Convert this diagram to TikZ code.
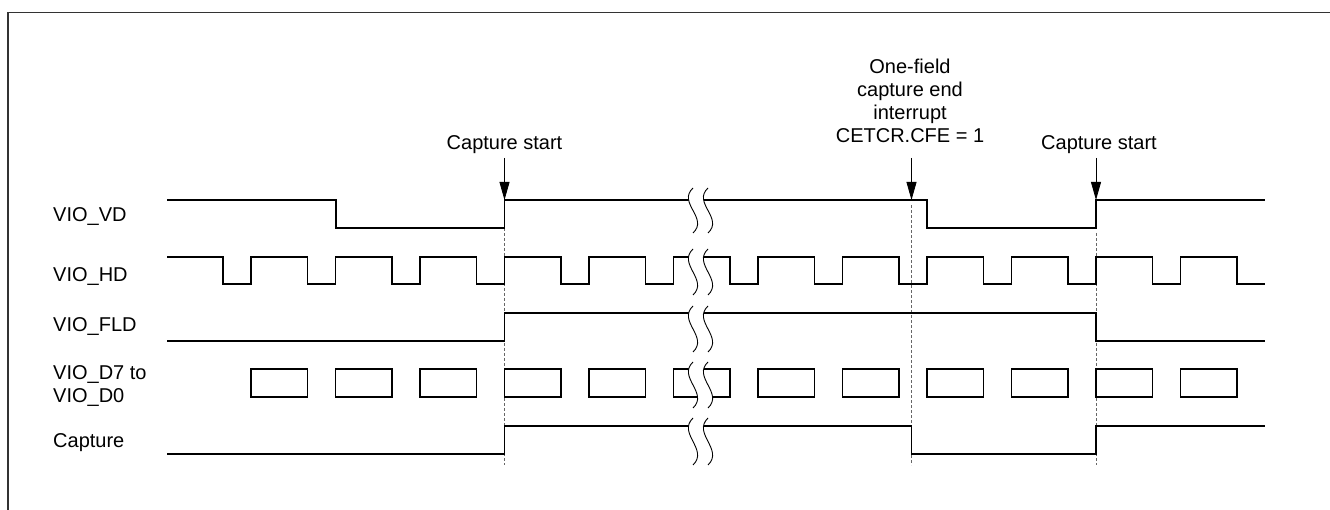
\documentclass[tikz,border=0pt]{standalone}
\usepackage{fontspec}
\setmainfont{Liberation Sans}
\usetikzlibrary{arrows.meta}
\begin{document}
\begin{tikzpicture}[x=1pt,y=-1pt,
  wave/.style={line width=1.3pt,black,line join=miter},
  guide/.style={line width=0.8pt,gray!80!black,dash pattern=on 3pt off 2pt},
  lbl/.style={anchor=west,inner sep=0pt,font=\fontsize{20}{23}\selectfont},
  note/.style={align=center,inner sep=2pt,font=\fontsize{20}{23}\selectfont},
  marker/.style={line width=0.8pt,-{Triangle[length=18pt,width=10pt]}},
  frameline/.style={line width=1.5pt,black!80}]
\useasboundingbox (0,0) rectangle (1330,510);
% frame
\draw[frameline] (8,510) -- (8,12.5) -- (1330,12.5);
% labels
\node[lbl] (lvd) at (53,217) {VIO\_VD};
\node[lbl] (lhd) at (53,277) {VIO\_HD};
\node[lbl] (lfld) at (53,327) {VIO\_FLD};
\node[lbl,align=left] (ld) at (53,386) {VIO\_D7 to\\VIO\_D0};
\node[lbl] (lcap) at (53,443) {Capture};
% guide lines
\draw[guide] (504.5,228) -- (504.5,465);
\draw[guide] (911.5,205) -- (911.5,465);
\draw[guide] (1096,233) -- (1096,465);
% VIO_VD
\draw[wave] (167,200) -- (336,200) -- (336,228) -- (504.5,228) -- (504.5,200) -- (927,200) -- (927,228) -- (1096,228) -- (1096,200) -- (1265,200);
% VIO_HD
\draw[wave] (167,257) \foreach \k in {0,...,11}{ -- ({223+84.5*\k},257) -- ++(0,27) -- ++(28,0) -- ++(0,-27) } -- (1237,257) -- (1237,284) -- (1265,284);
% VIO_FLD
\draw[wave] (167,341) -- (504.5,341) -- (504.5,313) -- (1096,313) -- (1096,341) -- (1265,341);
% data boxes
\foreach \k in {0,...,11}{
  \draw[wave] ({251+84.5*\k},369) rectangle ++(56.5,28);
}
% Capture
\draw[wave] (167,454) -- (504.5,454) -- (504.5,426) -- (911.5,426) -- (911.5,454) -- (1096,454) -- (1096,426) -- (1265,426);
% break marks
\foreach \t/\b in {188/233,249/295,306/352,362/408,418/465}{
  \fill[white] (693,\t) .. controls (677,{\t+0.33*(\b-\t)}) and (709,{\t+0.67*(\b-\t)}) .. (693,\b)
     -- (708,\b) .. controls (724,{\t+0.67*(\b-\t)}) and (692,{\t+0.33*(\b-\t)}) .. (708,\t) -- cycle;
  \draw[line width=0.9pt] (693,\t) .. controls (677,{\t+0.33*(\b-\t)}) and (709,{\t+0.67*(\b-\t)}) .. (693,\b);
  \draw[line width=0.9pt] (708,\t) .. controls (692,{\t+0.33*(\b-\t)}) and (724,{\t+0.67*(\b-\t)}) .. (708,\b);
}
% annotations
\node[note] (cs1) at (504.5,145) {Capture start};
\node[note] (cfe) at (910,101) {One-field\\capture end\\interrupt\\CETCR.CFE = 1};
\node[note] (cs2) at (1099,145) {Capture start};
\coordinate (t1) at (504.5,200);
\coordinate (t2) at (911.5,200);
\coordinate (t3) at (1096,200);
\draw[marker] (504.5,158) -- (t1);
\draw[marker] (911.5,158) -- (t2);
\draw[marker] (1096,158) -- (t3);
\end{tikzpicture}
\end{document}
